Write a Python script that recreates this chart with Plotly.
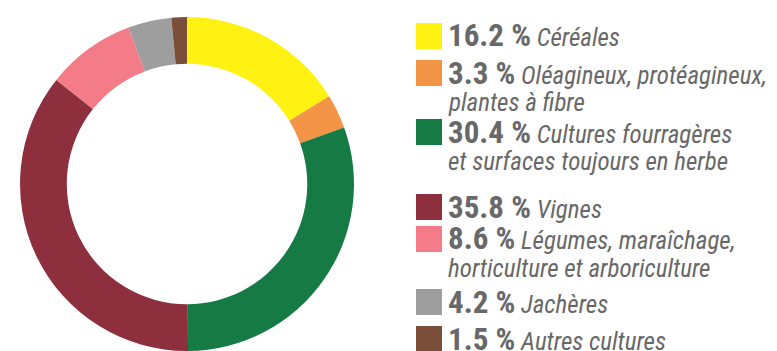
import plotly.graph_objects as go

# Répartition de la surface agricole par type de culture (%)
categories = [
    "Céréales",
    "Oléagineux, protéagineux,<br>plantes à fibre",
    "Cultures fourragères<br>et surfaces toujours en herbe",
    "Vignes",
    "Légumes, maraîchage,<br>horticulture et arboriculture",
    "Jachères",
    "Autres cultures",
]
shares = [16.2, 3.3, 30.4, 35.8, 8.6, 4.2, 1.5]
colors = ["#FFF212", "#F39447", "#167A45", "#8E2F3D", "#F47C88", "#9E9E9E", "#7A4E38"]

W, H = 777, 351
FONT = "Roboto Condensed, Roboto, sans-serif"
TEXT_COLOR = "#686868"

fig = go.Figure()

# Donut, first slice at 12 o'clock, running clockwise
cx, cy, r = 187, 184, 167
fig.add_trace(go.Pie(
    labels=[c.replace("<br>", " ") for c in categories],
    values=shares,
    marker=dict(colors=colors, line=dict(width=0)),
    hole=0.72,
    sort=False,
    direction="clockwise",
    rotation=0,
    textinfo="none",
    hoverinfo="label+percent",
    showlegend=False,
    domain=dict(x=[(cx - r) / W, (cx + r) / W], y=[(H - cy - r) / H, (H - cy + r) / H]),
))

# Hand-built legend: colour square, bold share, italic label (wrapped lines)
first_line_y = [36, 73, 132, 207, 239, 302, 339]
line_gap = 29
sq_x0, sq_size, text_x = 416, 26, 446

shapes, annotations = [], []
for name, val, col, y0 in zip(categories, shares, colors, first_line_y):
    shapes.append(dict(
        type="rect", xref="paper", yref="paper",
        x0=sq_x0 / W, x1=(sq_x0 + sq_size) / W,
        y0=1 - (y0 + sq_size / 2) / H, y1=1 - (y0 - sq_size / 2) / H,
        fillcolor=col, line=dict(width=0),
    ))
    parts = name.split("<br>")
    for i, part in enumerate(parts):
        if i == 0:
            txt = (f"<span style='font-size:31px'><b>{val:.1f} %</b></span> "
                   f"<i>{part}</i>")
        else:
            txt = f"<i>{part}</i>"
        annotations.append(dict(
            xref="paper", yref="paper",
            x=text_x / W, y=1 - (y0 + i * line_gap) / H,
            xanchor="left", yanchor="middle",
            text=txt, showarrow=False, align="left",
            font=dict(family=FONT, size=25, color=TEXT_COLOR),
        ))

fig.update_layout(
    width=W, height=H,
    margin=dict(l=0, r=0, t=0, b=0),
    paper_bgcolor="white", plot_bgcolor="white",
    shapes=shapes, annotations=annotations,
)

fig.write_html("out.html")
